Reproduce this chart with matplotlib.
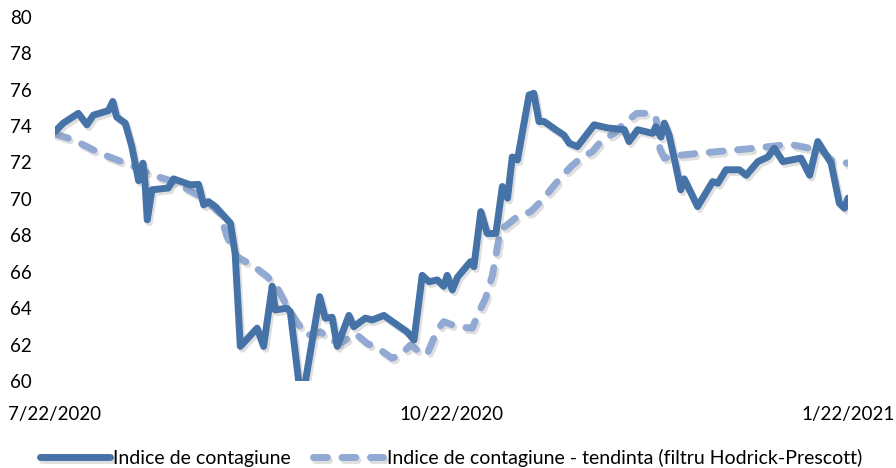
import matplotlib
matplotlib.use("Agg")
import matplotlib.pyplot as plt
import matplotlib.patheffects as pe

# days since 7/22/2020 and index values
idx_days = [0.0, 1.9, 5.4, 7.4, 8.9, 12.4, 13.4, 14.3, 16.3, 17.8, 19.4, 20.4, 20.9,
            21.4, 22.5, 26.3, 27.5, 31.4, 33.3, 34.5, 35.6, 37.2, 40.7, 41.8, 43.0,
            46.9, 48.4, 50.4, 51.1, 53.8, 54.6, 57.2, 61.4, 62.7, 64.3, 65.5, 68.2,
            69.3, 72.0, 73.6, 76.3, 78.3, 81.7, 83.3, 85.2, 86.8, 88.7, 90.2, 91.0,
            92.2, 93.4, 96.4, 97.2, 98.8, 100.3, 102.3, 103.8, 105.0, 106.1, 107.3,
            110.0, 111.1, 112.3, 113.5, 116.2, 118.1, 119.3, 121.2, 125.1, 128.2,
            132.1, 133.2, 135.2, 138.7, 139.4, 140.6, 141.4, 142.5, 144.1, 145.2,
            146.0, 149.1, 152.6, 153.8, 155.7, 158.8, 160.4, 163.1, 165.4, 166.9,
            168.9, 173.1, 175.1, 177.0, 180.1, 182.0, 183.2, 184.0]
idx_vals = [73.7, 74.16, 74.7, 74.07, 74.6, 74.85, 75.35, 74.5, 74.16, 72.9, 71.0, 71.96,
            70.86, 68.85, 70.5, 70.6, 71.1, 70.77, 70.8, 69.67, 69.85, 69.58, 68.67, 67.0,
            61.9, 62.9, 61.9, 65.2, 63.9, 64.0, 63.8, 58.7, 64.63, 63.45, 63.5, 61.9,
            63.6, 62.98, 63.45, 63.35, 63.6, 63.26, 62.7, 62.25, 65.8, 65.45, 65.55,
            65.2, 65.8, 65.0, 65.7, 66.55, 66.28, 69.3, 68.1, 68.1, 70.68, 70.04, 72.3,
            72.14, 75.71, 75.8, 74.25, 74.25, 73.8, 73.5, 73.06, 72.87, 74.07, 73.9,
            73.8, 73.15, 73.8, 73.6, 73.97, 73.4, 74.16, 73.5, 71.77, 70.5, 71.1, 69.58,
            70.95, 70.86, 71.6, 71.6, 71.3, 72.05, 72.3, 72.78, 72.05, 72.24, 71.3,
            73.15, 71.96, 69.76, 69.49, 70.04]

trend_days = [0.0, 4.3, 10.5, 17.4, 22.8, 27.5, 34.5, 38.3, 39.9, 42.2, 46.1, 49.2,
              51.5, 53.8, 56.2, 58.5, 61.6, 63.9, 66.2, 69.7, 72.4, 75.5, 78.2, 80.2,
              82.5, 85.2, 86.4, 88.7, 90.2, 93.3, 96.8, 98.4, 99.9, 101.5, 102.6, 103.4,
              104.9, 107.3, 110.4, 112.7, 115.0, 117.4, 119.7, 122.0, 124.7, 127.0,
              129.7, 132.1, 135.0, 138.3, 139.4, 139.8, 140.4, 141.4, 145.2, 149.1,
              158.4, 163.1, 169.3, 171.2, 174.7, 177.8, 180.1, 184.0]
trend_vals = [73.57, 73.24, 72.5, 71.87, 71.3, 70.95, 70.04, 69.2, 67.93, 66.83, 66.3,
              65.75, 65.15, 64.1, 63.2, 62.5, 62.7, 62.25, 62.07, 62.6, 62.07, 61.7,
              61.25, 61.43, 61.98, 61.5, 61.5, 62.8, 63.26, 62.98, 62.9, 63.8, 64.54,
              65.8, 67.3, 68.3, 68.57, 69.03, 69.3, 69.85, 70.5, 71.2, 71.77, 72.24,
              72.6, 73.24, 73.6, 74.16, 74.7, 74.7, 74.5, 73.8, 72.7, 72.24, 72.4, 72.5,
              72.7, 72.8, 72.97, 72.97, 72.8, 72.7, 72.14, 71.96]

tick_days = [0, 92, 184]
tick_labels = ["7/22/2020", "10/22/2020", "1/22/2021"]

plt.rcParams["font.family"] = ["Lato", "DejaVu Sans"]

fig = plt.figure(figsize=(8.96, 4.68), dpi=100)
ax = fig.add_axes([0.0614, 0.186, 0.885, 0.778])

shadow = [pe.SimpleLineShadow(offset=(1.5, -2), shadow_color="#808080", alpha=0.25),
          pe.Normal()]

ax.plot(trend_days, trend_vals, color="#91A9D3", lw=5, dashes=(2.0, 2.1),
        dash_capstyle="round", solid_capstyle="round",
        label="Indice de contagiune - tendinta (filtru Hodrick-Prescott)",
        path_effects=shadow)
ax.plot(idx_days, idx_vals, color="#4573A8", lw=5, solid_joinstyle="round",
        solid_capstyle="round", label="Indice de contagiune", path_effects=shadow)

ax.set_xlim(0, 184)
ax.set_ylim(60, 80)
ax.set_yticks(range(60, 81, 2))
ax.set_xticks(tick_days)
ax.set_xticklabels(tick_labels)
ax.tick_params(length=0, labelsize=13.5, colors="#000000")
ax.tick_params(axis="y", pad=17)
ax.tick_params(axis="x", pad=18)
for s in ax.spines.values():
    s.set_visible(False)

h, l = ax.get_legend_handles_labels()
fig.legend(h[::-1], l[::-1], loc="lower center", bbox_to_anchor=(0.503, -0.035), ncol=2,
           frameon=False, fontsize=14, handlelength=3.6, handletextpad=0.2,
           columnspacing=1.1)

fig.savefig("out.png", dpi=100)
